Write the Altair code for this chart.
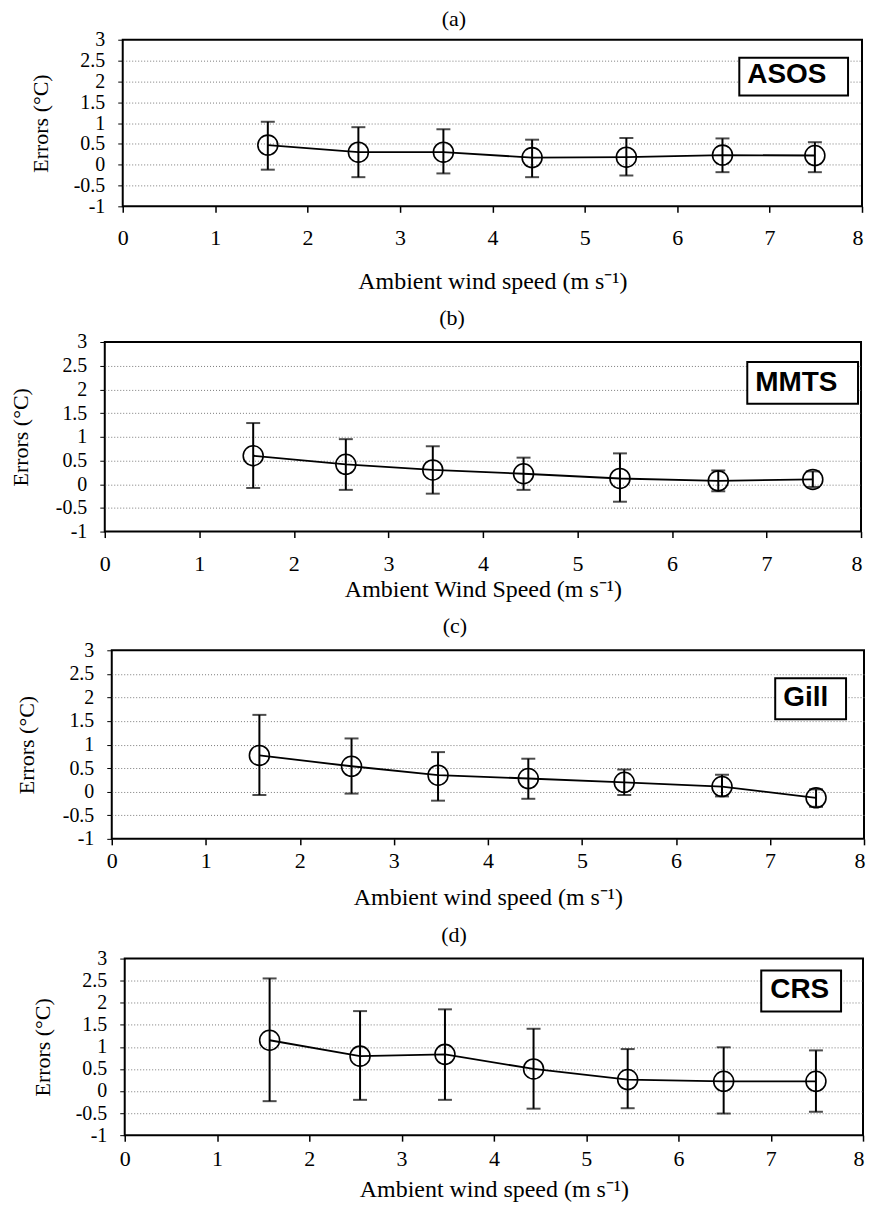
import altair as alt
import pandas as pd

# ---------------- data ----------------
wind_speed = [1.57, 2.55, 3.47, 4.43, 5.45, 6.49, 7.49]

asos_mean = [0.47, 0.30, 0.30, 0.17, 0.18, 0.23, 0.22]
asos_hi = [1.03, 0.90, 0.85, 0.60, 0.64, 0.63, 0.54]
asos_lo = [-0.12, -0.30, -0.21, -0.30, -0.26, -0.18, -0.18]

mmts_mean = [0.60, 0.42, 0.30, 0.22, 0.12, 0.07, 0.10]
mmts_hi = [1.29, 0.95, 0.80, 0.56, 0.65, 0.29, 0.27]
mmts_lo = [-0.08, -0.12, -0.20, -0.12, -0.37, -0.15, -0.06]

gill_mean = [0.77, 0.54, 0.35, 0.28, 0.20, 0.11, -0.13]
gill_hi = [1.63, 1.13, 0.84, 0.70, 0.47, 0.36, 0.05]
gill_lo = [-0.07, -0.04, -0.19, -0.15, -0.07, -0.10, -0.32]

crs_mean = [1.15, 0.79, 0.83, 0.50, 0.26, 0.22, 0.22]
crs_hi = [2.55, 1.81, 1.85, 1.41, 0.95, 0.99, 0.92]
crs_lo = [-0.23, -0.20, -0.20, -0.40, -0.39, -0.51, -0.47]

series_names = ["ASOS", "MMTS", "Gill", "CRS"]
panel_titles = ["(a)", "(b)", "(c)", "(d)"]
x_titles = [
    "Ambient wind speed (m s\u207b\u00b9)",
    "Ambient Wind Speed (m s\u207b\u00b9)",
    "Ambient wind speed (m s\u207b\u00b9)",
    "Ambient wind speed (m s\u207b\u00b9)",
]
y_title = "Errors (\u00b0C)"
x_ticks = [0, 1, 2, 3, 4, 5, 6, 7, 8]
y_ticks = [-1, -0.5, 0, 0.5, 1, 1.5, 2, 2.5, 3]

means = [asos_mean, mmts_mean, gill_mean, crs_mean]
highs = [asos_hi, mmts_hi, gill_hi, crs_hi]
lows = [asos_lo, mmts_lo, gill_lo, crs_lo]

# ---------------- layout / style ----------------
SERIF = "Liberation Serif"
SANS = "Liberation Sans"

layouts = [
    dict(w=741, h=167, spacer=24.9, ytx=-82.6, xlp=32, xty=82, tx=332, ty=-14,
         box=(618, 727, 18, 56), txt=(626, 43)),
    dict(w=758, h=190, spacer=3.8, ytx=-84, xlp=33, xty=65, tx=348, ty=-17,
         box=(644, 755, 20, 62), txt=(652, 49)),
    dict(w=754, h=189, spacer=10.8, ytx=-85, xlp=23, xty=66, tx=344, ty=-17,
         box=(665, 736, 28, 69), txt=(673, 56)),
    dict(w=740, h=177, spacer=27.4, ytx=-82, xlp=24, xty=61, tx=330, ty=-17,
         box=(638, 718, 12, 53), txt=(647, 40)),
]


def panel(i):
    lay = layouts[i]
    df = pd.DataFrame({"wind": wind_speed, "err": means[i], "hi": highs[i], "lo": lows[i]})
    xs = alt.Scale(domain=[0, 8], nice=False, zero=False)
    ys = alt.Scale(domain=[-1, 3], nice=False, zero=False)
    x_axis = alt.Axis(
        values=x_ticks, title=x_titles[i], grid=False, domain=False,
        tickSize=6, tickWidth=1.5, tickColor="black",
        labelFont=SERIF, labelFontSize=22, labelColor="black",
        labelBaseline="alphabetic", labelPadding=lay["xlp"],
        labelOffset={"condition": {"test": "datum.value >= 8", "value": -4.5}, "value": 0},
        labelFlush=False, labelOverlap=False, labelExpr="'' + datum.value",
        titleFont=SERIF, titleFontSize=24, titleFontWeight="normal",
        titleColor="black", titleBaseline="alphabetic", titleY=lay["xty"],
    )
    y_axis = alt.Axis(
        values=y_ticks, title=y_title, grid=True, gridColor="#7a7a7a",
        gridDash=[1, 2], gridWidth=1,
        gridOpacity={"condition": {"test": "datum.value <= -1 || datum.value >= 3", "value": 0}, "value": 1},
        domain=False, tickSize=5, tickWidth=1, tickColor="black",
        labelFont=SERIF, labelFontSize=20, labelColor="black", labelPadding=13,
        labelOverlap=False, labelExpr="'' + datum.value",
        titleFont=SERIF, titleFontSize=22, titleFontWeight="normal",
        titleColor="black", titleX=lay["ytx"], titleBaseline="middle",
    )
    X = alt.X("wind:Q", scale=xs, axis=x_axis)
    base = alt.Chart(df)
    line = base.mark_line(color="black", strokeWidth=1.8).encode(
        x=X, y=alt.Y("err:Q", scale=ys, axis=y_axis))
    bars = base.mark_rule(color="black", strokeWidth=2).encode(
        x=X, y=alt.Y("lo:Q", scale=ys, axis=y_axis), y2="hi:Q")
    cap_hi = base.mark_tick(orient="horizontal", color="black", size=14, thickness=2).encode(
        x=X, y=alt.Y("hi:Q", scale=ys, axis=y_axis))
    cap_lo = base.mark_tick(orient="horizontal", color="black", size=14, thickness=2).encode(
        x=X, y=alt.Y("lo:Q", scale=ys, axis=y_axis))
    pts = base.mark_point(shape="circle", filled=False, color="black", size=400,
                          strokeWidth=1.6, opacity=1).encode(
        x=X, y=alt.Y("err:Q", scale=ys, axis=y_axis))

    lab_df = pd.DataFrame({"label": [series_names[i]], "panel": [panel_titles[i]]})
    bx, bx2, by, by2 = lay["box"]
    tx, ty = lay["txt"]
    box = alt.Chart(lab_df).mark_rect(fill="white", stroke="black", strokeWidth=2).encode(
        x=alt.value(bx), x2=alt.value(bx2), y=alt.value(by), y2=alt.value(by2))
    txt = alt.Chart(lab_df).mark_text(font=SANS, fontSize=28, fontWeight="bold",
                                      align="left", baseline="alphabetic",
                                      color="black").encode(
        x=alt.value(tx), y=alt.value(ty), text="label:N")
    ttl = alt.Chart(lab_df).mark_text(font=SERIF, fontSize=22, align="center",
                                      baseline="alphabetic", color="black").encode(
        x=alt.value(lay["tx"]), y=alt.value(lay["ty"]), text="panel:N")

    ch = alt.layer(line, bars, cap_hi, cap_lo, pts, box, txt, ttl).properties(
        width=lay["w"], height=lay["h"])
    spacer = alt.Chart(pd.DataFrame({"s": [0]})).mark_point(opacity=0).properties(
        width=lay["spacer"], height=1,
        view=alt.ViewBackground(stroke="transparent"))
    return alt.hconcat(spacer, ch, spacing=0)


chart = alt.vconcat(*[panel(i) for i in range(4)], spacing=12).properties(
    padding={"left": -8, "top": -2.6, "right": 0, "bottom": 0},
    background="white",
).configure_view(stroke="black", strokeWidth=2)

chart.save("out.html", embed_options={"renderer": "svg", "actions": False})
